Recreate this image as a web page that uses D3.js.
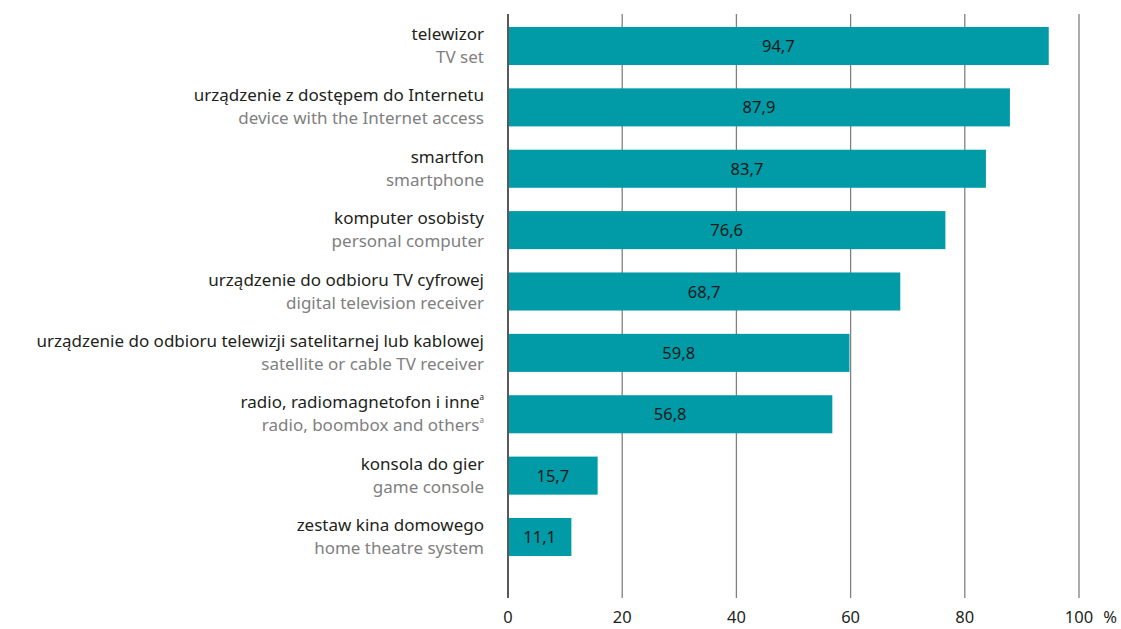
<!DOCTYPE html>
<html>
<head>
  <meta charset="utf-8">
  <script src="https://d3js.org/d3.v7.min.js"></script>
  <style>
    body { margin: 0; background: #fff; }
    text { font-family: "Noto Sans", "Open Sans", sans-serif; }
  </style>
</head>
<body>
  <div id="chart"></div>
  <script>
    // dane
    const labelsPl = ["telewizor", "urządzenie z dostępem do Internetu", "smartfon", "komputer osobisty",
      "urządzenie do odbioru TV cyfrowej", "urządzenie do odbioru telewizji satelitarnej lub kablowej",
      "radio, radiomagnetofon i inne", "konsola do gier", "zestaw kina domowego"];
    const labelsEn = ["TV set", "device with the Internet access", "smartphone", "personal computer",
      "digital television receiver", "satellite or cable TV receiver",
      "radio, boombox and others", "game console", "home theatre system"];
    const footnote = [false, false, false, false, false, false, true, false, false];
    const values = [94.7, 87.9, 83.7, 76.6, 68.7, 59.8, 56.8, 15.7, 11.1];
    const ticks = [0, 20, 40, 60, 80, 100];

    const width = 1121, height = 629;
    const svg = d3.select("#chart").append("svg")
      .attr("width", width).attr("height", height);

    const x = d3.scaleLinear().domain([0, 100]).range([508, 1079]);
    const y = d3.scaleBand().domain(d3.range(values.length))
      .range([15, 568]).paddingInner(0.38).paddingOuter(0.195);

    // siatka
    svg.append("g").selectAll("line").data(ticks).join("line")
      .attr("x1", d => x(d)).attr("x2", d => x(d))
      .attr("y1", 14).attr("y2", 598)
      .attr("stroke", d => d === 0 ? "#58595b" : "#808080")
      .attr("stroke-width", d => d === 0 ? 2 : 1.3);

    // słupki
    svg.append("g").selectAll("rect").data(values).join("rect")
      .attr("x", x(0) + 1).attr("y", (d, i) => y(i))
      .attr("width", d => x(d) - x(0) - 1).attr("height", y.bandwidth())
      .attr("fill", "#009ba6");

    svg.append("g").selectAll("text").data(values).join("text")
      .attr("x", d => (x(0) + x(d)) / 2).attr("y", (d, i) => y(i) + y.bandwidth() / 2 + 6)
      .attr("text-anchor", "middle").attr("font-size", 16.5).attr("fill", "#1a1a1a")
      .text(d => d3.format(".1f")(d).replace(".", ","));

    // etykiety
    const lab = svg.append("g").selectAll("g").data(values).join("g")
      .attr("transform", (d, i) => `translate(484,${y(i) + y.bandwidth() / 2})`);

    lab.append("text").attr("y", -6).attr("text-anchor", "end")
      .attr("font-size", 17).attr("fill", "#231f20")
      .each(function(d, i) {
        const t = d3.select(this);
        t.append("tspan").text(labelsPl[i]);
        if (footnote[i]) t.append("tspan").attr("font-size", 8).attr("dy", -8).text("a");
      });

    lab.append("text").attr("y", 17).attr("text-anchor", "end")
      .attr("font-size", 17).attr("fill", "#808080")
      .each(function(d, i) {
        const t = d3.select(this);
        t.append("tspan").text(labelsEn[i]);
        if (footnote[i]) t.append("tspan").attr("font-size", 8).attr("dy", -8).text("a");
      });

    // oś x
    svg.append("g").selectAll("text").data(ticks).join("text")
      .attr("x", d => x(d)).attr("y", 623)
      .attr("text-anchor", "middle").attr("font-size", 16.5).attr("fill", "#231f20")
      .text(d => d);
    svg.append("text").attr("x", 1110).attr("y", 623)
      .attr("text-anchor", "middle").attr("font-size", 16.5).attr("fill", "#231f20").text("%");
  </script>
</body>
</html>
